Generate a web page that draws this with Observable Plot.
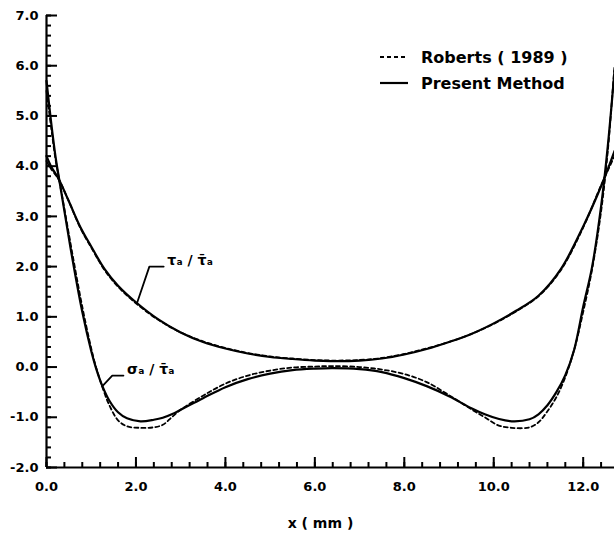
<!DOCTYPE html>
<html>
<head>
<meta charset="utf-8">
<script src="https://cdn.jsdelivr.net/npm/d3@7"></script>
<script src="https://cdn.jsdelivr.net/npm/@observablehq/plot@0.6"></script>
<style>
  html, body { margin: 0; padding: 0; background: #fff; }
  #wrap { position: relative; width: 614px; height: 536px; font-family: "DejaVu Sans", sans-serif; }
  .leg { position: absolute; left: 380px; display: flex; align-items: center; height: 20px;
         font: bold 16px "DejaVu Sans", sans-serif; color: #000; white-space: nowrap; }
  .leg svg { margin-right: 13px; }
</style>
</head>
<body>
<div id="wrap"></div>
<script>
// ---- data ----
const tauX      = [0, 0.1, 0.27, 0.5, 0.75, 1.0, 1.3, 1.6, 2.0, 2.5, 3.0, 3.5, 4.0, 4.5, 5.0, 5.5, 6.0, 6.35, 7.0, 7.5, 8.0, 8.5, 9.0, 9.5, 10.0, 10.5, 11.0, 11.5, 12.0, 12.4, 12.7];
const tauPresent= [4.2, 4.0, 3.75, 3.3, 2.8, 2.4, 1.95, 1.62, 1.29, 0.95, 0.69, 0.5, 0.37, 0.27, 0.2, 0.16, 0.13, 0.12, 0.13, 0.17, 0.25, 0.36, 0.5, 0.66, 0.87, 1.12, 1.42, 1.95, 2.8, 3.6, 4.3];
const tauRoberts= [4.1, 3.95, 3.74, 3.3, 2.78, 2.38, 1.93, 1.6, 1.27, 0.94, 0.69, 0.51, 0.38, 0.28, 0.21, 0.17, 0.14, 0.13, 0.14, 0.18, 0.26, 0.37, 0.5, 0.66, 0.86, 1.11, 1.41, 1.93, 2.78, 3.62, 4.2];

const sigX      = [0, 0.1, 0.2, 0.3, 0.42, 0.6, 0.8, 1.0, 1.1, 1.25, 1.4, 1.6, 1.8, 2.1, 2.4, 2.6, 2.8, 3.0, 3.5, 4.0, 4.5, 5.0, 5.5, 6.0, 6.4, 7.0, 7.5, 8.0, 8.5, 9.0, 9.5, 9.8, 10.1, 10.4, 10.8, 11.0, 11.2, 11.4, 11.6, 11.8, 12.0, 12.2, 12.4, 12.55, 12.7];
const sigPresent= [5.7, 4.9, 4.2, 3.65, 3.0, 2.05, 1.1, 0.32, 0.0, -0.38, -0.66, -0.9, -1.02, -1.08, -1.05, -1.01, -0.94, -0.85, -0.62, -0.4, -0.24, -0.13, -0.06, -0.03, -0.02, -0.04, -0.1, -0.22, -0.38, -0.58, -0.82, -0.94, -1.03, -1.08, -1.04, -0.94, -0.76, -0.5, -0.16, 0.35, 1.2, 2.0, 3.2, 4.4, 5.9];
const sigRoberts= [5.5, 4.8, 4.15, 3.65, 3.05, 2.15, 1.2, 0.37, 0.02, -0.4, -0.75, -1.06, -1.18, -1.21, -1.2, -1.15, -1.0, -0.85, -0.57, -0.33, -0.17, -0.07, -0.01, 0.01, 0.02, 0.0, -0.05, -0.14, -0.3, -0.56, -0.84, -1.0, -1.16, -1.21, -1.2, -1.1, -0.88, -0.6, -0.2, 0.35, 1.1, 1.95, 3.1, 4.3, 6.0];

const xMajorTicks = [0, 2, 4, 6, 8, 10, 12];
const xMinorTicks = d3.range(0, 12.7, 0.4);
const yMajorTicks = [-2, -1, 0, 1, 2, 3, 4, 5, 6, 7];
const yMinorTicks = d3.range(-2, 7.01, 0.2);

const seriesNames = ["Roberts ( 1989 )", "Present Method"];
const xLabel = "x ( mm )";
const tauLabel = "τₐ / τ̄ₐ";
const sigLabel = "σₐ / τ̄ₐ";
const tauLeader = [[2.03, 1.29], [2.30, 2.0], [2.62, 2.0]];
const sigLeader = [[1.25, -0.38], [1.47, -0.17], [1.72, -0.17]];
const tauLabelAt = [2.7, 2.12];
const sigLabelAt = [1.8, -0.05];

// ---- build ----
const W = 614, H = 536, ML = 46, MR = 0, MT = 15, MB = 69;
const plotW = W - ML - MR, plotH = H - MT - MB;
const pts = (xs, ys) => xs.map((x, i) => ({x, y: ys[i]}));

const chart = Plot.plot({
  width: W,
  height: H,
  marginLeft: ML,
  marginRight: MR,
  marginTop: MT,
  marginBottom: MB,
  style: {background: "#fff", fontFamily: "DejaVu Sans", fontWeight: "bold", fontSize: "13px", color: "#000"},
  x: {domain: [0, 12.7]},
  y: {domain: [-2, 7]},
  marks: [
    Plot.axisX(xMajorTicks, {tickSize: 0, tickPadding: 14, tickFormat: d => d.toFixed(1), fontSize: 13, fontWeight: "bold", label: null}),
    Plot.axisY(yMajorTicks, {tickSize: 0, tickPadding: 8, tickFormat: d => d.toFixed(1), fontSize: 13, fontWeight: "bold", label: null}),
    Plot.tickX(xMinorTicks, {x: d => d, insetTop: plotH - 5, stroke: "#000", strokeWidth: 2}),
    Plot.tickX(xMajorTicks, {x: d => d, insetTop: plotH - 10, stroke: "#000", strokeWidth: 2}),
    Plot.tickY(yMinorTicks, {y: d => d, insetRight: plotW - 5, stroke: "#000", strokeWidth: 2}),
    Plot.tickY(yMajorTicks, {y: d => d, insetRight: plotW - 11, stroke: "#000", strokeWidth: 2}),
    Plot.ruleX([0], {stroke: "#000", strokeWidth: 2.2}),
    Plot.ruleY([-2], {stroke: "#000", strokeWidth: 2.2}),
    Plot.line(pts(tauX, tauRoberts), {x: "x", y: "y", curve: "catmull-rom", stroke: "#000", strokeWidth: 1.8, strokeDasharray: "4,3"}),
    Plot.line(pts(sigX, sigRoberts), {x: "x", y: "y", curve: "catmull-rom", stroke: "#000", strokeWidth: 1.8, strokeDasharray: "4,3"}),
    Plot.line(pts(tauX, tauPresent), {x: "x", y: "y", curve: "catmull-rom", stroke: "#000", strokeWidth: 2.2}),
    Plot.line(pts(sigX, sigPresent), {x: "x", y: "y", curve: "catmull-rom", stroke: "#000", strokeWidth: 2.2}),
    Plot.line(tauLeader, {x: d => d[0], y: d => d[1], stroke: "#000", strokeWidth: 1.8}),
    Plot.line(sigLeader, {x: d => d[0], y: d => d[1], stroke: "#000", strokeWidth: 1.8}),
    Plot.text([tauLabel], {x: tauLabelAt[0], y: tauLabelAt[1], text: d => d, textAnchor: "start", fontSize: 14, fontWeight: "bold", fill: "#000"}),
    Plot.text([sigLabel], {x: sigLabelAt[0], y: sigLabelAt[1], text: d => d, textAnchor: "start", fontSize: 14, fontWeight: "bold", fill: "#000"}),
    Plot.text([xLabel], {frameAnchor: "bottom", dx: -10, dy: 60, text: d => d, fontSize: 14, fontWeight: "bold", fill: "#000"})
  ]
});

const wrap = document.getElementById("wrap");
wrap.appendChild(chart);

const legendRows = [
  {name: seriesNames[0], dash: "4,3", top: 47},
  {name: seriesNames[1], dash: null, top: 73}
];
for (const r of legendRows) {
  const row = document.createElement("div");
  row.className = "leg";
  row.style.top = r.top + "px";
  row.innerHTML = `<svg width="28" height="4"><line x1="0" y1="2" x2="28" y2="2" stroke="#000" stroke-width="${r.dash ? 1.8 : 2.2}" ${r.dash ? `stroke-dasharray="${r.dash}"` : ""}/></svg><span>${r.name}</span>`;
  wrap.appendChild(row);
}
</script>
</body>
</html>
